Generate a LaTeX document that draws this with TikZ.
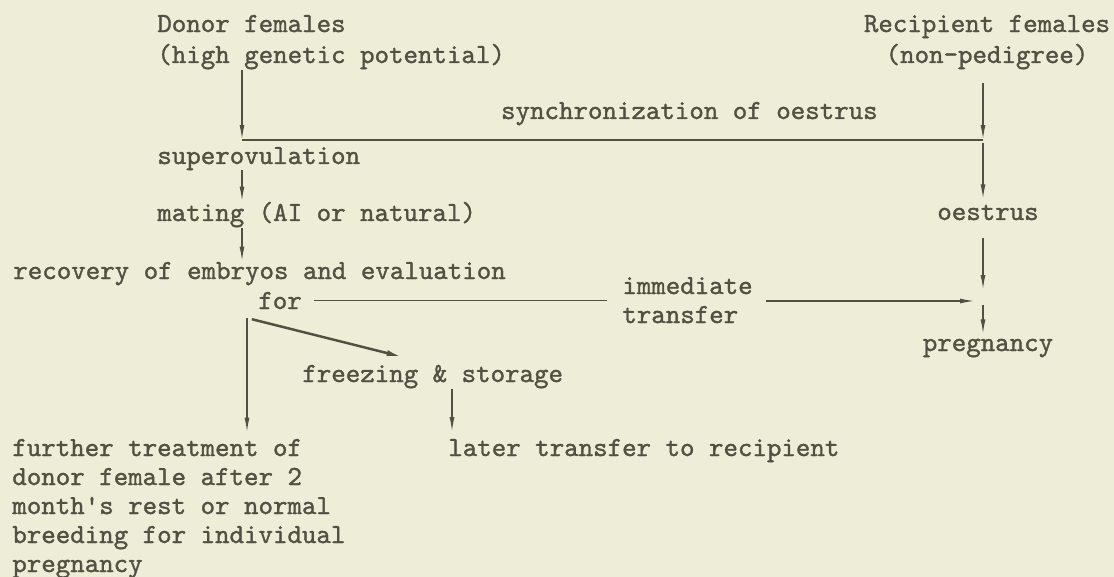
\documentclass[tikz,border=0pt]{standalone}
\usepackage{fontspec}
\setmonofont{lmmono10-regular.otf}[FakeBold=1.2]
\usetikzlibrary{arrows.meta, positioning, calc}
\definecolor{paper}{RGB}{238,237,215}
\definecolor{inkgrey}{RGB}{82,80,66}

\begin{document}
\begin{tikzpicture}[
    x=0.02cm, y=-0.02cm,
    lbl/.style={font=\ttfamily\fontsize{15.7}{16.5}\selectfont, text=inkgrey,
        inner sep=0pt, align=left},
    ln/.style={draw=inkgrey, line width=0.9pt},
    arr/.style={ln, -{Latex[length=0.3cm, width=0.1cm]}}
]
\fill[paper] (0,0) rectangle (1114,577);
\useasboundingbox (0,0) rectangle (1114,577);

% the two herds (base = last line)
\node[lbl, anchor=base west] (donor) at (157,63) {Donor females\\[0.04cm](high genetic potential)};
\node[lbl, anchor=base, align=center] (recip) at (987,63) {Recipient females\\[0.04cm](non-pedigree)};
\node[lbl, anchor=base east] (sync) at (878,119) {synchronization of oestrus};

% donor side
\node[lbl, anchor=base west] (superov) at (157,164) {superovulation};
\node[lbl, anchor=base west] (mating) at (157,221) {mating (AI or natural)};
\node[lbl, anchor=base west] (recov) at (13,279) {recovery of embryos and evaluation};
\node[lbl, anchor=base west] (forn) at (258,309) {for};
\node[lbl, anchor=base west] (immed) at (622,323) {immediate\\transfer};
\node[lbl, anchor=base west] (freeze) at (302,382) {freezing \& storage};
\node[lbl, anchor=base west] (later) at (448,456) {later transfer to recipient};
\node[lbl, anchor=base west] (further) at (12,572) {further treatment of\\donor female after 2\\month\textquotesingle s rest or normal\\breeding for individual\\pregnancy};

% recipient side
\node[lbl, anchor=base] (oestrus) at (988,220) {oestrus};
\node[lbl, anchor=base] (preg) at (988,351) {pregnancy};

\coordinate (sjoin) at (242,140);
\coordinate (rjoin) at (983,140);
\coordinate (tjoin) at (983,301);
\coordinate (fork) at (247,318);
\coordinate (lcol) at ($(later.north west)+(4,0)$);

\draw[arr] (donor.south -| sjoin) -- (sjoin);
\draw[ln] (sjoin) -- (rjoin);
\draw[arr, shorten <=0.26cm] (recip.south -| rjoin) -- (rjoin);
\draw[arr, shorten <=0.06cm, shorten >=0.1cm] (rjoin) -- (rjoin |- oestrus.north);
\draw[arr, shorten <=0.34cm, shorten >=0.22cm] (oestrus.south -| tjoin) -- (tjoin);
\draw[arr, shorten <=0.08cm, shorten >=0.08cm] (tjoin) -- (tjoin |- preg.north);

\draw[arr] (superov.south -| sjoin) -- (mating.north -| sjoin);
\draw[arr] (mating.south -| sjoin) -- (recov.north -| sjoin);

\draw[ln, shorten <=0.24cm, shorten >=0.3cm] (forn.east) -- (forn.east -| immed.west);
\draw[arr, shorten <=0.26cm, shorten >=0.16cm] (immed.east |- tjoin) -- (tjoin);

\draw[arr, shorten >=0.12cm] (fork) -- (fork |- further.north);
\draw[ln, line width=1.4pt, -{Latex[length=0.32cm, width=0.12cm]},
    shorten <=0.1cm, shorten >=0.62cm] (fork) -- (freeze.north);
\draw[arr, shorten >=0.13cm] (freeze.south -| lcol) -- (lcol);

\end{tikzpicture}
\end{document}
